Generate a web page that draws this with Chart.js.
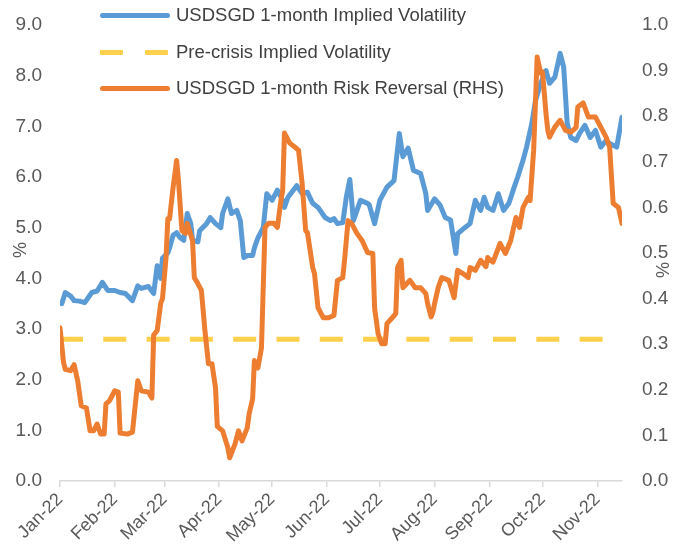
<!DOCTYPE html>
<html>
<head>
<meta charset="utf-8">
<script src="https://cdn.jsdelivr.net/npm/chart.js@4.4.1/dist/chart.umd.min.js"></script>
<style>
html,body{margin:0;padding:0;background:#fff;}
#wrap{position:relative;width:690px;height:559px;overflow:hidden;}
#c{position:absolute;left:0;top:0;}
.lg{position:absolute;font-family:"Liberation Sans",Arial,sans-serif;font-size:18.5px;color:#404040;line-height:20px;white-space:nowrap;}
.sw{position:absolute;height:5px;border-radius:2.5px;}
.ax{position:absolute;font-family:"Liberation Sans",Arial,sans-serif;font-size:18px;color:#595959;transform:translate(-50%,-50%) rotate(-90deg);line-height:18px;}
</style>
</head>
<body>
<div id="wrap">
<canvas id="c" width="690" height="559"></canvas>
<div class="sw" style="left:100px;top:12.5px;width:70px;background:#5B9BD5;"></div>
<div class="lg" style="left:176px;top:5px;">USDSGD 1-month Implied Volatility</div>
<div class="sw" style="left:100px;top:49.5px;width:23px;background:#FFD04C;border-radius:1px;"></div>
<div class="sw" style="left:145px;top:49.5px;width:23px;background:#FFD04C;border-radius:1px;"></div>
<div class="lg" style="left:176px;top:42px;">Pre-crisis Implied Volatility</div>
<div class="sw" style="left:100px;top:85.5px;width:70px;background:#ED7D31;"></div>
<div class="lg" style="left:176px;top:78px;">USDSGD 1-month Risk Reversal (RHS)</div>
<div class="ax" style="left:20px;top:250px;">%</div>
<div class="ax" style="left:663px;top:270px;">%</div>
</div>
<script>
// x values are days since 1 Jan 2022
const monthStarts = [0, 31, 59, 90, 120, 151, 181, 212, 243, 273, 304];
const monthLabels = ["Jan-22","Feb-22","Mar-22","Apr-22","May-22","Jun-22","Jul-22","Aug-22","Sep-22","Oct-22","Nov-22"];

const ivDays = [1,3,6,8,11,14,18,21,24,27,31,34,37,41,44,46,50,53,55,57,58,61,62,64,66,68,70,72,74,75,78,79,83,85,88,91,92,95,97,100,102,104,106,109,110,112,115,117,120,123,126,127,129,132,134,137,140,143,146,150,153,155,157,160,162,164,166,170,174,175,178,181,185,189,192,194,197,200,204,207,208,212,215,218,221,224,225,229,232,235,238,240,242,245,248,251,254,257,259,262,264,267,269,272,275,277,280,283,285,287,289,292,294,297,300,303,306,309,311,315,318];
const ivValues = [3.50,3.72,3.65,3.56,3.55,3.52,3.72,3.75,3.92,3.76,3.76,3.72,3.70,3.56,3.85,3.80,3.84,3.70,4.25,4.00,4.40,4.50,4.60,4.85,4.90,4.80,4.75,5.28,5.08,4.75,4.72,4.94,5.08,5.20,5.08,5.00,5.28,5.57,5.28,5.34,5.14,4.41,4.45,4.45,4.60,4.80,5.00,5.67,5.54,5.74,5.54,5.40,5.60,5.74,5.83,5.67,5.70,5.48,5.40,5.20,5.14,5.18,5.08,5.10,5.60,5.95,5.14,5.54,5.48,5.45,5.08,5.54,5.80,5.93,6.86,6.40,6.57,6.13,6.07,5.67,5.34,5.57,5.45,5.20,5.15,4.49,4.88,5.00,5.08,5.54,5.34,5.60,5.40,5.34,5.67,5.34,5.48,5.80,6.00,6.33,6.59,7.06,7.50,7.85,8.10,7.85,7.97,8.44,8.17,7.06,6.78,6.72,6.86,7.02,6.78,6.92,6.59,6.72,6.66,6.59,7.18];

const preCrisisDays = [0, 318];
const preCrisisValues = [2.8, 2.8];

const rrDays = [0,2,3,6,8,10,12,15,17,19,21,23,25,26,28,31,33,34,38,41,44,46,50,52,53,55,57,58,60,61,62,64,66,67,69,71,72,75,76,78,80,82,84,86,88,89,92,95,96,99,101,103,106,107,109,110,112,114,116,118,121,123,125,126,127,130,133,135,137,139,140,143,144,146,149,152,155,157,160,161,163,165,168,171,174,177,178,180,182,184,185,188,190,191,193,194,198,201,204,207,208,210,211,212,214,216,220,223,225,228,231,232,235,238,241,242,245,249,252,255,258,260,262,265,266,268,270,272,273,275,276,277,280,283,286,289,292,293,296,299,303,306,309,311,313,316,318];
const rrValues = [0.336,0.26,0.245,0.242,0.255,0.22,0.165,0.16,0.11,0.11,0.125,0.103,0.103,0.169,0.176,0.198,0.195,0.105,0.103,0.107,0.22,0.198,0.195,0.182,0.32,0.33,0.39,0.40,0.49,0.575,0.575,0.644,0.703,0.66,0.549,0.543,0.565,0.527,0.446,0.433,0.418,0.33,0.257,0.257,0.204,0.12,0.11,0.073,0.051,0.081,0.11,0.088,0.117,0.147,0.18,0.264,0.248,0.292,0.556,0.565,0.565,0.556,0.615,0.637,0.763,0.741,0.732,0.725,0.653,0.549,0.545,0.468,0.455,0.38,0.358,0.358,0.363,0.44,0.446,0.484,0.571,0.565,0.543,0.527,0.501,0.499,0.38,0.323,0.301,0.301,0.345,0.358,0.367,0.468,0.484,0.424,0.44,0.424,0.424,0.411,0.389,0.36,0.37,0.39,0.424,0.446,0.44,0.402,0.462,0.455,0.446,0.468,0.462,0.484,0.47,0.49,0.48,0.521,0.499,0.527,0.578,0.556,0.6,0.622,0.615,0.725,0.93,0.894,0.897,0.806,0.769,0.754,0.776,0.791,0.769,0.765,0.775,0.82,0.829,0.798,0.798,0.776,0.754,0.732,0.609,0.6,0.565];

const pts = (xs, ys) => xs.map((x, i) => ({x: x, y: ys[i]}));
const FONT = '"Liberation Sans", Arial, sans-serif';
const TXT = '#595959';
const fitY = w => s => { s.width = w; s.paddingTop = 0; s.paddingBottom = 0; };

new Chart(document.getElementById('c'), {
  type: 'line',
  data: {
    datasets: [
      {label: 'USDSGD 1-month Risk Reversal (RHS)', data: pts(rrDays, rrValues), yAxisID: 'y1',
       borderColor: '#ED7D31', borderWidth: 5, pointRadius: 0, tension: 0, borderJoinStyle: 'round', borderCapStyle: 'round', order: 0},
      {label: 'Pre-crisis Implied Volatility', data: pts(preCrisisDays, preCrisisValues), yAxisID: 'y',
       borderColor: '#FFD04C', borderWidth: 5, pointRadius: 0, borderDash: [23, 20.3], order: 1},
      {label: 'USDSGD 1-month Implied Volatility', data: pts(ivDays, ivValues), yAxisID: 'y',
       borderColor: '#5B9BD5', borderWidth: 5, pointRadius: 0, tension: 0, borderJoinStyle: 'round', borderCapStyle: 'round', order: 2}
    ]
  },
  options: {
    responsive: false,
    animation: false,
    devicePixelRatio: 1,
    layout: {autoPadding: false, padding: {top: 25, left: 0, right: 0, bottom: 0}},
    plugins: {legend: {display: false}, tooltip: {enabled: false}},
    scales: {
      x: {
        type: 'linear', min: 0, max: 318,
        afterBuildTicks: s => { s.ticks = monthStarts.map(v => ({value: v})); },
        afterFit: s => { s.height = 78; s.paddingLeft = 0; s.paddingRight = 0; },
        ticks: {autoSkip: false, maxRotation: 45, minRotation: 45, color: TXT, padding: 2,
                font: {family: FONT, size: 18},
                callback: (v, i) => monthLabels[i]},
        grid: {drawOnChartArea: false, drawTicks: true, tickLength: 6, color: '#d9d9d9', lineWidth: 1.5},
        border: {display: true, color: '#d9d9d9', width: 1.5}
      },
      y: {
        position: 'left', min: 0, max: 9,
        afterFit: fitY(60),
        ticks: {stepSize: 1, padding: 18, color: TXT, font: {family: FONT, size: 19},
                callback: v => Number(v).toFixed(1)},
        grid: {display: false, drawTicks: false},
        border: {display: false}
      },
      y1: {
        position: 'right', min: 0, max: 1,
        afterFit: fitY(68),
        ticks: {stepSize: 0.1, padding: 20, color: TXT, font: {family: FONT, size: 19},
                callback: v => Number(v).toFixed(1)},
        grid: {display: false, drawTicks: false},
        border: {display: false}
      }
    }
  }
});
</script>
</body>
</html>
